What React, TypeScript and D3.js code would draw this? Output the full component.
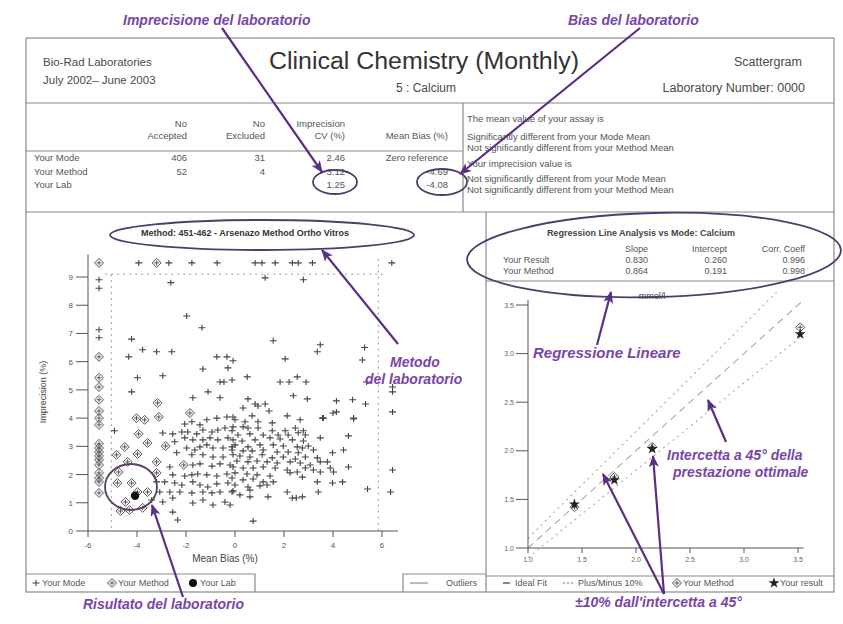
import * as d3 from 'd3';

// --- data ---
const modePoints: [number, number][] = [
  [-3.93, 9.5], [-2.7, 9.5], [-1.76, 9.5], [-0.73, 9.5], [0.82, 9.5], [1.1, 9.5], [1.64, 9.5], [2.34, 9.5], [2.58, 9.5], [3.16, 9.5], [6.4, 9.5],
  [-5.55, 8.9], [-5.55, 8.6], [-5.55, 7.13], [-5.55, 6.85],
  [-2.62, 8.8], [1.23, 8.97], [2.79, 8.9], [-1.97, 7.62], [-1.35, 7.2],
  [-4.22, 6.8], [-3.77, 6.42], [-3.2, 6.35], [-2.58, 6.35], [-4.34, 6.17], [-0.74, 6.17], [-0.33, 6.17], [-0.08, 6.03],
  [-1.31, 5.74], [-0.29, 5.78], [-3.98, 5.43], [-2.95, 5.5], [-0.61, 5.28], [-0.45, 5.28], [-0.12, 5.35], [-4.22, 4.93], [-1.1, 4.93],
  [1.56, 6.74], [3.48, 6.6], [3.36, 6.35], [5.29, 6.5], [2.05, 6.1], [5.2, 6.06], [0.5, 5.46], [1.84, 5.28], [2.21, 5.28],
  [2.54, 5.46], [2.9, 5.28], [5.37, 5.28], [6.43, 5.1], [6.43, 4.93],
  [-4.92, 3.55], [-1.72, 4.72], [-0.61, 4.72], [-2.95, 3.47],
  [-2.54, 3.44], [-2.46, 3.16], [-2.38, 2.77], [-2.05, 3.79], [-1.76, 3.87], [-1.43, 3.76], [-1.15, 3.94], [-0.74, 4.0], [-0.33, 4.04], [-0.08, 4.04],
  [-2.17, 3.51], [-1.93, 3.51], [-1.56, 3.44], [-1.31, 3.58], [-0.94, 3.51], [-0.7, 3.58], [-0.41, 3.65], [-0.08, 3.69],
  [-2.05, 3.3], [-1.72, 3.23], [-1.31, 3.23], [-1.02, 3.3], [-0.7, 3.23], [-0.29, 3.3],
  [-1.97, 2.94], [-1.64, 2.87], [-1.43, 2.98], [-1.15, 3.05], [-0.9, 2.94], [-0.49, 2.94], [-0.12, 2.98],
  [-1.76, 2.7], [-1.31, 2.7], [-0.9, 2.62], [-0.49, 2.62], [-0.08, 2.7],
  [-2.66, 2.27], [-1.72, 2.34], [-1.43, 2.38], [-0.94, 2.3], [-0.61, 2.38], [-0.2, 2.34],
  [-2.54, 1.99], [-2.05, 1.95], [-1.76, 1.99], [-1.52, 2.02], [-1.15, 1.99], [-0.74, 1.95], [-0.33, 2.02], [0, 2.06],
  [-2.46, 1.7], [-2.17, 1.63], [-1.72, 1.74], [-1.43, 1.63], [-1.11, 1.56], [-0.74, 1.67], [-0.29, 1.7],
  [-3.07, 1.38], [-2.66, 1.38], [-2.25, 1.38], [-1.76, 1.35], [-1.31, 1.38], [-0.94, 1.35], [-0.61, 1.38], [-0.12, 1.38],
  [-3.4, 1.1], [-2.95, 1.03], [-2.54, 1.17], [-1.72, 0.99], [-1.31, 1.1], [-0.9, 0.92], [-0.41, 1.03], [-0.2, 0.92],
  [-2.54, 0.67], [-2.34, 0.39], [-3.2, 1.74], [-2.87, 1.74],
  [0.53, 4.68], [0.33, 4.36], [0.82, 4.5], [0.94, 4.43], [1.23, 4.5], [2.38, 4.79], [2.95, 4.68], [4.14, 4.61], [4.8, 4.65], [5.33, 4.5],
  [6.43, 4.22], [4.14, 4.22], [1.39, 4.25], [0.7, 4.08], [2.13, 4.08], [2.66, 3.94], [3.61, 4.0], [4.84, 3.97], [0, 3.94], [0.41, 3.87], [0.94, 3.87], [1.52, 3.83],
  [0.33, 3.69], [0.53, 3.65], [0.94, 3.65], [1.52, 3.55], [2.05, 3.55], [2.46, 3.65], [2.79, 3.55], [-0.12, 3.55],
  [0.12, 3.4], [0.61, 3.44], [1.15, 3.4], [1.76, 3.4], [2.17, 3.4], [2.58, 3.48], [2.87, 3.4], [4.63, 3.37],
  [-0.08, 3.23], [0.29, 3.19], [0.82, 3.23], [1.43, 3.3], [1.84, 3.26], [2.34, 3.23], [2.79, 3.19], [3.48, 3.3],
  [0, 3.05], [0.53, 2.98], [1.02, 3.05], [1.56, 3.05], [1.97, 3.01], [2.54, 2.98], [2.75, 2.94], [2.99, 3.01],
  [-0.12, 2.87], [0.33, 2.84], [0.7, 2.84], [1.15, 2.87], [1.72, 2.8], [2.17, 2.8], [2.58, 2.77], [3.2, 2.87], [4.43, 2.87],
  [0.2, 2.66], [0.61, 2.62], [1.11, 2.7], [1.52, 2.59], [1.97, 2.62], [2.46, 2.55], [2.87, 2.62], [3.36, 2.59], [3.98, 2.77],
  [0.08, 2.48], [0.53, 2.45], [0.9, 2.48], [1.31, 2.45], [1.72, 2.41], [2.25, 2.45], [2.66, 2.41], [3.07, 2.34], [3.48, 2.45], [3.77, 2.45], [4.63, 2.27], [6.43, 2.16],
  [-0.08, 2.27], [0.33, 2.23], [0.74, 2.23], [1.15, 2.27], [1.64, 2.23], [2.13, 2.16], [2.54, 2.09], [2.87, 2.23], [3.2, 2.16], [3.89, 2.23], [4.02, 2.09],
  [0.49, 2.02], [0.9, 1.99], [1.43, 1.95], [2.25, 2.06], [2.75, 1.91], [3.48, 2.09],
  [-0.12, 1.88], [0.33, 1.81], [0.74, 1.84], [1.15, 1.74], [1.56, 1.74], [3.36, 1.74], [3.98, 1.7], [4.39, 1.74],
  [0, 1.63], [0.53, 1.56], [1.02, 1.6], [1.31, 1.63],
  [-0.08, 1.42], [0.61, 1.45], [2.13, 1.38], [3.4, 1.38], [5.41, 1.49], [6.35, 1.38],
  [0.2, 1.28], [0.61, 1.21], [1.35, 1.21], [2.34, 1.17], [2.5, 1.17], [2.75, 1.21],
  [0.74, 0.35], [4.0, 4.18], [4.84, 4.0], [3.57, 4.0],
];

const methodPoints: [number, number][] = [
  [-5.55, 9.5], [-3.2, 9.5],
  [-5.55, 6.17], [-5.55, 5.43], [-5.55, 5.1], [-5.55, 4.65], [-5.55, 4.25], [-5.55, 4.0], [-5.55, 3.76], [-5.55, 3.09], [-5.55, 2.94],
  [-5.55, 2.8], [-5.55, 2.66], [-5.55, 2.52], [-5.55, 2.34], [-5.55, 2.06], [-5.55, 1.88], [-5.55, 1.74], [-5.55, 1.35],
  [-3.16, 4.54], [-3.11, 4.04], [-4.02, 4.0], [-3.69, 3.94], [-3.93, 3.44], [-3.57, 3.12], [-4.5, 2.98], [-2.83, 3.01], [-4.84, 2.7],
  [-3.98, 2.73], [-3.2, 2.45], [-2.09, 2.34], [-4.38, 2.45], [-4.75, 2.09], [-4.22, 1.7], [-4.8, 1.7], [-3.98, 1.38], [-3.57, 1.38],
  [-4.47, 1.03], [-4.67, 0.71], [-4.3, 0.74], [-3.77, 0.82], [-3.2, 2.06], [-1.84, 4.18],
];

const labPoint: [number, number] = [-4.08, 1.25];
const biasTicks = [-6, -4, -2, 0, 2, 4, 6];
const cvTicks = [0, 1, 2, 3, 4, 5, 6, 7, 8, 9];

const modeMeans = [1.43, 1.8, 2.15, 3.52];
const methodMeans = [1.42, 1.73, 2.04, 3.27];
const resultMeans = [1.45, 1.7, 2.02, 3.2];
const concTicks = [1.0, 1.5, 2.0, 2.5, 3.0, 3.5];

const tableHeads = [['No', 'Accepted'], ['No', 'Excluded'], ['Imprecision', 'CV (%)'], ['', 'Mean Bias (%)']];
const tableRows = [
  ['Your Mode', '406', '31', '2.46', 'Zero reference'],
  ['Your Method', '52', '4', '3.12', '-4.69'],
  ['Your Lab', '', '', '1.25', '-4.08'],
];
const regrHeads = ['Slope', 'Intercept', 'Corr. Coeff'];
const regrRows = [
  ['Your Result', '0.830', '0.260', '0.996'],
  ['Your Method', '0.864', '0.191', '0.998'],
];
const assayLines = [
  'The mean value of your assay is',
  'Significantly different from your Mode Mean',
  'Not significantly different from your Method Mean',
  'Your imprecision value is',
  'Not significantly different from your Mode Mean',
  'Not significantly different from your Method Mean',
];

const FONT = '"Liberation Sans", Arial, sans-serif';
const INK = '#4a4a4a';
const RULE = '#8a8a8a';
const PURPLE = '#7a45a8';
const ARROW = '#5b2e86';

function Cross({ x, y }: { x: number; y: number }) {
  return <path d={`M${x - 3.5},${y}h7M${x},${y - 3}v6`} stroke="#444" strokeWidth={1.1} fill="none" />;
}

function Diamond({ x, y, r = 4.5 }: { x: number; y: number; r?: number }) {
  return (
    <g stroke="#555" fill="none" strokeWidth={1}>
      <path d={`M${x},${y - r}L${x + r},${y}L${x},${y + r}L${x - r},${y}Z`} />
      <path d={`M${x - 2.5},${y}h5M${x},${y - 2.5}v5`} />
    </g>
  );
}

function App() {
  // scattergram scales
  const x = d3.scaleLinear([-6, 6], [88, 382]);
  const y = d3.scaleLinear([0, 9], [531, 277]);
  // regression scales
  const rx = d3.scaleLinear([1, 3.5], [528, 798]);
  const ry = d3.scaleLinear([1, 3.5], [548, 305]);
  const star = d3.symbol(d3.symbolStar, 38);

  const fitLine = (k: number) => {
    const xs = [1.0, 3.55];
    const pts = xs.map((v) => [v, Math.min(v * k, 3.66)] as [number, number]);
    if (v2(k) < 3.55) pts[1] = [v2(k), 3.66];
    return d3.line()(pts.map(([a, b]) => [rx(a), ry(b)]))!;
  };
  function v2(k: number) {
    return 3.66 / k;
  }

  const arrows = [
    [222, 28, 322, 172],
    [640, 28, 460, 174],
    [398, 344, 322, 250],
    [183, 597, 152, 505],
    [597, 345, 611, 292],
    [726, 442, 708, 400],
    [664, 594, 603, 474],
    [664, 594, 653, 456],
  ];

  return (
    <svg width={843} height={624} style={{ position: 'absolute', left: 0, top: 0, background: '#fff' }} fontFamily={FONT}>
      <defs>
        <marker id="ah" viewBox="0 0 12 10" refX="11" refY="5" markerWidth="13" markerHeight="10" markerUnits="userSpaceOnUse" orient="auto">
          <path d="M0,0L12,5L0,10L3,5Z" fill={ARROW} />
        </marker>
      </defs>

      {/* frame */}
      <g stroke={RULE} fill="none" strokeWidth={1.2}>
        <rect x={26} y={38} width={808} height={554} />
        <line x1={26} x2={834} y1={103} y2={103} />
        <line x1={26} x2={463} y1={151} y2={151} />
        <line x1={463} x2={463} y1={103} y2={212} />
        <line x1={26} x2={834} y1={212} y2={212} />
        <line x1={486} x2={486} y1={212} y2={592} />
        <line x1={486} x2={834} y1={281} y2={281} />
        <polyline points="26,574 255,574 255,592" />
        <polyline points="403,592 403,574 486,574" />
        <line x1={486} x2={834} y1={576} y2={576} />
      </g>

      {/* header */}
      <g fill={INK}>
        <text x={43} y={66} fontSize={11.5}>Bio-Rad Laboratories</text>
        <text x={43} y={84} fontSize={11.5}>July 2002– June 2003</text>
        <text x={424} y={69} fontSize={23} textAnchor="middle" fill="#333" textLength={310} lengthAdjust="spacingAndGlyphs">Clinical Chemistry (Monthly)</text>
        <text x={426} y={92} fontSize={12} textAnchor="middle">5 :  Calcium</text>
        <text x={802} y={66} fontSize={12.5} textAnchor="end">Scattergram</text>
        <text x={805} y={92} fontSize={12.5} textAnchor="end">Laboratory Number: 0000</text>
      </g>

      {/* stats table */}
      <g fill="#555" fontSize={9.5}>
        {tableHeads.map((h, i) => {
          const xr = [187, 265, 345, 448][i];
          return (
            <g key={i}>
              <text x={xr} y={127} textAnchor="end">{h[0]}</text>
              <text x={xr} y={139} textAnchor="end">{h[1]}</text>
            </g>
          );
        })}
        {tableRows.map((r, i) => (
          <g key={i}>
            <text x={34} y={161 + i * 13.5}>{r[0]}</text>
            {r.slice(1).map((c, j) => (
              <text key={j} x={[187, 265, 345, 448][j]} y={161 + i * 13.5} textAnchor="end">{c}</text>
            ))}
          </g>
        ))}
        {assayLines.map((t, i) => (
          <text key={i} x={467} y={[122, 140, 151, 167, 182, 193][i]} fontSize={9.5}>{t}</text>
        ))}
      </g>

      {/* regression table */}
      <g fill="#555" fontSize={9}>
        <text x={641} y={236} textAnchor="middle" fontWeight="bold" fill="#444">Regression Line Analysis vs Mode: Calcium</text>
        {regrHeads.map((h, i) => (
          <text key={h} x={[648, 727, 805][i]} y={252} textAnchor="end">{h}</text>
        ))}
        {regrRows.map((r, i) => (
          <g key={i}>
            <text x={503} y={263 + i * 11}>{r[0]}</text>
            {r.slice(1).map((c, j) => (
              <text key={j} x={[648, 727, 805][j]} y={263 + i * 11} textAnchor="end">{c}</text>
            ))}
          </g>
        ))}
      </g>

      {/* scattergram */}
      <text x={245} y={236} textAnchor="middle" fontSize={9} fill="#333" fontWeight="bold">Method: 451-462 - Arsenazo Method Ortho Vitros</text>
      <g stroke="#999" strokeDasharray="2,4" strokeWidth={1}>
        <line x1={x(-5.3)} x2={x(6.2)} y1={y(9.1)} y2={y(9.1)} />
        <line x1={x(-5.05)} x2={x(-5.05)} y1={y(9.1)} y2={y(0)} />
        <line x1={x(5.85)} x2={x(5.85)} y1={y(9.65)} y2={y(0)} />
      </g>
      <g stroke="#555" strokeWidth={1}>
        <line x1={x(-6)} x2={x(-6)} y1={y(0)} y2={y(9.8)} />
        <line x1={x(-6)} x2={x(6.65)} y1={y(0)} y2={y(0)} />
        {cvTicks.map((t) => <line key={t} x1={x(-6) - 12} x2={x(-6)} y1={y(t)} y2={y(t)} />)}
        {biasTicks.map((t) => <line key={t} x1={x(t)} x2={x(t)} y1={y(0)} y2={y(0) + 6} />)}
      </g>
      <g fill="#555" fontSize={8}>
        {cvTicks.map((t) => <text key={t} x={x(-6) - 15} y={y(t) + 3} textAnchor="end">{t}</text>)}
        {biasTicks.map((t) => <text key={t} x={x(t)} y={y(0) + 17} textAnchor="middle">{t}</text>)}
        <text x={225} y={562} textAnchor="middle" fontSize={10} fill="#444">Mean Bias (%)</text>
        <text transform="translate(46,392) rotate(-90)" textAnchor="middle" fontSize={9} fill="#444">Imprecision (%)</text>
      </g>
      {modePoints.map(([b, c], i) => <Cross key={'m' + i} x={x(b)} y={y(c)} />)}
      {methodPoints.map(([b, c], i) => <Diamond key={'d' + i} x={x(b)} y={y(c)} />)}
      <circle cx={x(labPoint[0])} cy={y(labPoint[1])} r={4.2} fill="#111" />

      {/* left legends */}
      <g fill="#555" fontSize={9}>
        <Cross x={36} y={583} />
        <text x={42} y={586}>Your Mode</text>
        <Diamond x={112} y={583} />
        <text x={118} y={586}>Your Method</text>
        <circle cx={193} cy={583} r={4} fill="#111" />
        <text x={200} y={586}>Your Lab</text>
        <line x1={410} x2={428} y1={583} y2={583} stroke="#777" />
        <text x={446} y={586}>Outliers</text>
      </g>

      {/* regression plot */}
      <text x={652} y={299} textAnchor="middle" fontSize={9} fill="#444">mmol/l</text>
      <g fill="none" strokeWidth={1.1}>
        <path d={fitLine(1.1)} stroke="#aaa" strokeDasharray="2,4" />
        <path d={fitLine(1.0)} stroke="#aaa" strokeDasharray="7,5" />
        <path d={fitLine(0.9)} stroke="#aaa" strokeDasharray="2,4" />
      </g>
      <g stroke="#555" strokeWidth={1}>
        <line x1={rx(1)} x2={rx(1)} y1={ry(1)} y2={ry(3.55)} />
        <line x1={rx(1)} x2={rx(3.55)} y1={ry(1)} y2={ry(1)} />
        {concTicks.map((t) => <line key={t} x1={rx(1) - 12} x2={rx(1)} y1={ry(t)} y2={ry(t)} />)}
        {concTicks.map((t) => <line key={t} x1={rx(t)} x2={rx(t)} y1={ry(1)} y2={ry(1) + 5} />)}
      </g>
      <g fill="#666" fontSize={7}>
        {concTicks.map((t) => <text key={t} x={rx(1) - 14} y={ry(t) + 2.5} textAnchor="end">{t.toFixed(1)}</text>)}
        {concTicks.map((t) => <text key={t} x={rx(t)} y={ry(1) + 14} textAnchor="middle">{t.toFixed(1)}</text>)}
      </g>
      {modeMeans.map((m, i) => <Diamond key={'rd' + i} x={rx(m)} y={ry(methodMeans[i])} r={4.5} />)}
      {modeMeans.map((m, i) => (
        <path key={'rs' + i} d={star()!} transform={`translate(${rx(m)},${ry(resultMeans[i])})`} fill="#222" />
      ))}

      {/* right legend */}
      <g fill="#555" fontSize={9}>
        <line x1={503} x2={510} y1={583} y2={583} stroke="#333" strokeWidth={1.2} />
        <text x={515} y={586}>Ideal Fit</text>
        <line x1={563} x2={575} y1={583} y2={583} stroke="#777" strokeDasharray="2,2" />
        <text x={578} y={586}>Plus/Minus 10%</text>
        <Diamond x={677} y={583} />
        <text x={683} y={586}>Your Method</text>
        <path d={star()!} transform="translate(774,583)" fill="#222" />
        <text x={780} y={586}>Your result</text>
      </g>

      {/* annotation overlays */}
      <g fill="none" stroke="#4f3c6e" strokeWidth={1.8}>
        <ellipse cx={335} cy={182} rx={22} ry={12} />
        <ellipse cx={442} cy={182} rx={25} ry={13} />
        <ellipse cx={262} cy={235} rx={152} ry={15} />
        <ellipse cx={131} cy={487} rx={26} ry={23} stroke="#5a4060" />
        <ellipse cx={654} cy={255} rx={187} ry={42} transform="rotate(-1.5,654,255)" />
      </g>
      <g stroke={ARROW} strokeWidth={2.2}>
        {arrows.map((a, i) => (
          <line key={i} x1={a[0]} y1={a[1]} x2={a[2]} y2={a[3]} markerEnd="url(#ah)" />
        ))}
      </g>
      <g fill={PURPLE} fontWeight="bold" fontStyle="italic" fontSize={14}>
        <text x={123} y={25}>Imprecisione del laboratorio</text>
        <text x={568} y={25}>Bias del laboratorio</text>
        <text x={390} y={367}>Metodo</text>
        <text x={365} y={384}>del laboratorio</text>
        <text x={83} y={609}>Risultato del laboratorio</text>
        <text x={533} y={358} fontSize={15}>Regressione Lineare</text>
        <text x={667} y={460}>Intercetta a 45°  della</text>
        <text x={673} y={477}>prestazione ottimale</text>
        <text x={575} y={607}>±10% dall'intercetta a 45°</text>
      </g>
    </svg>
  );
}

export default App;
